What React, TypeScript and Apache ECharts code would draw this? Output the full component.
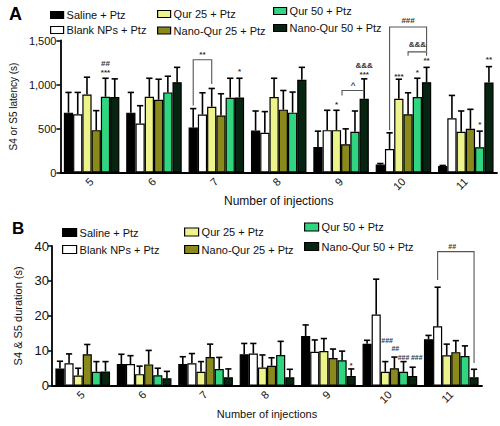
import { useEffect, useRef } from "react";
import * as echarts from "echarts";

const FONT = "Liberation Sans, Arial, sans-serif";

const CATEGORIES = ["5", "6", "7", "8", "9", "10", "11"];
const GROUPS = [
  "Saline + Ptz",
  "Blank NPs + Ptz",
  "Qur 25 + Ptz",
  "Nano-Qur 25 + Ptz",
  "Qur 50 + Ptz",
  "Nano-Qur 50 + Ptz",
];
const COLORS = ["#000000", "#ffffff", "#eef48c", "#8a891c", "#2fd67f", "#06240f"];

// Panel A: S4 or S5 latency (s), means
const A_SALINE = [680, 680, 511, 477, 290, 90, 75];
const A_BLANK = [662, 556, 658, 451, 481, 267, 617];
const A_QUR25 = [887, 861, 748, 857, 481, 838, 462];
const A_NANO25 = [481, 827, 647, 714, 320, 662, 496];
const A_QUR50 = [861, 910, 850, 680, 462, 857, 286];
const A_NANO50 = [857, 1026, 853, 1053, 838, 1026, 1023];
// Panel A: upper end of error bars
const A_SALINE_ERR = [910, 910, 726, 699, 470, 102, 80];
const A_BLANK_ERR = [910, 759, 906, 692, 707, 451, 876];
const A_QUR25_ERR = [1083, 1071, 955, 1071, 707, 1060, 699];
const A_NANO25_ERR = [703, 1060, 895, 932, 496, 906, 718];
const A_QUR50_ERR = [1071, 1094, 1071, 914, 699, 1071, 470];
const A_NANO50_ERR = [1064, 1195, 1071, 1195, 1064, 1195, 1203];

// Panel B: S4 & S5 duration (s), means
const B_SALINE = [4.95, 6.2, 6.2, 9.0, 14.2, 12.0, 13.3];
const B_BLANK = [6.4, 6.2, 6.4, 9.2, 9.7, 20.4, 17.0];
const B_QUR25 = [2.9, 3.3, 4.0, 5.2, 9.9, 4.0, 8.7];
const B_NANO25 = [9.0, 6.1, 8.2, 5.7, 7.9, 5.0, 9.6];
const B_QUR50 = [4.0, 3.0, 4.8, 8.8, 7.3, 4.0, 8.5];
const B_NANO50 = [4.1, 2.1, 2.4, 2.4, 2.8, 2.8, 2.4];
// Panel B: upper end of error bars
const B_SALINE_ERR = [7.0, 9.0, 8.3, 12.1, 17.4, 13.0, 14.4];
const B_BLANK_ERR = [9.1, 8.6, 9.2, 12.1, 13.1, 30.5, 28.2];
const B_QUR25_ERR = [5.0, 5.6, 6.9, 8.8, 13.5, 6.9, 11.9];
const B_NANO25_ERR = [11.8, 10.1, 11.9, 8.0, 10.5, 8.2, 12.9];
const B_QUR50_ERR = [6.9, 5.0, 8.1, 12.7, 9.9, 6.9, 11.4];
const B_NANO50_ERR = [6.9, 4.1, 4.8, 4.7, 4.8, 5.3, 4.7];

// significance marks: category index, bar position, value level, text
const A_MARKS = [
  { cat: 0, pos: 4, value: 1236, text: "##" },
  { cat: 0, pos: 4, value: 1138, text: "***" },
  { cat: 2, pos: 1, value: 1345, text: "**" },
  { cat: 2, pos: 5, value: 1149, text: "*" },
  { cat: 4, pos: 2, value: 773, text: "*" },
  { cat: 4, pos: 3.8, value: 988, text: "^" },
  { cat: 4, pos: 5, value: 1221, text: "&&&" },
  { cat: 4, pos: 5, value: 1118, text: "***" },
  { cat: 5, pos: 2, value: 1089, text: "***" },
  { cat: 5, pos: 4, value: 1131, text: "*" },
  { cat: 5, pos: 5, value: 1278, text: "**" },
  { cat: 5, pos: 4, value: 1458, text: "&&&" },
  { cat: 5, pos: 3, value: 1729, text: "###" },
  { cat: 6, pos: 4, value: 547, text: "*" },
  { cat: 6, pos: 5, value: 1289, text: "**" },
];
const B_MARKS = [
  { cat: 4, pos: 5, value: 5.8, text: "*" },
  { cat: 5, pos: 2.2, value: 12.9, text: "###" },
  { cat: 5, pos: 3.1, value: 10.6, text: "##" },
  { cat: 5, pos: 4.0, value: 8.2, text: "###" },
  { cat: 5, pos: 5.45, value: 8.2, text: "###" },
  { cat: 6, pos: 2.6, value: 39.8, text: "##" },
];
// comparison brackets: category, from/to bar position, top level, end levels
const A_BRACKETS = [
  { cat: 2, from: 0, to: 2, top: 1281, left: 762, right: 1007 },
  { cat: 4, from: 2.6, to: 5, top: 931, left: 875, right: 931 },
  { cat: 5, from: 3, to: 5, top: 1371, left: 1326, right: 1326 },
  { cat: 5, from: 1, to: 5, top: 1653, left: 480, right: 1382 },
];
const B_BRACKETS = [{ cat: 6, from: 1, to: 5, top: 38.4, left: 30.3, right: 6.5 }];

const A_MEANS = [A_SALINE, A_BLANK, A_QUR25, A_NANO25, A_QUR50, A_NANO50];
const A_ERRS = [A_SALINE_ERR, A_BLANK_ERR, A_QUR25_ERR, A_NANO25_ERR, A_QUR50_ERR, A_NANO50_ERR];
const B_MEANS = [B_SALINE, B_BLANK, B_QUR25, B_NANO25, B_QUR50, B_NANO50];
const B_ERRS = [B_SALINE_ERR, B_BLANK_ERR, B_QUR25_ERR, B_NANO25_ERR, B_QUR50_ERR, B_NANO50_ERR];

const GAP = 0.11;

function barWidth(api: any) {
  const band = api.size([1, 0])[0];
  return (band * (1 - GAP)) / GROUPS.length;
}

function barSeries(panel: number, i: number, data: number[]) {
  return {
    type: "bar",
    name: GROUPS[i],
    xAxisIndex: panel,
    yAxisIndex: panel,
    data,
    barGap: "0%",
    barCategoryGap: GAP * 100 + "%",
    itemStyle: { color: COLORS[i], borderColor: "#000", borderWidth: 1.2 },
    z: 2,
  };
}

function errSeries(panel: number, i: number, means: number[], errs: number[]) {
  return {
    type: "custom",
    xAxisIndex: panel,
    yAxisIndex: panel,
    z: 3,
    silent: true,
    data: means.map((m, k) => [k, m, errs[k]]),
    renderItem: (_p: any, api: any) => {
      const k = api.value(0);
      const base = api.coord([k, api.value(1)]);
      const top = api.coord([k, api.value(2)]);
      const bw = barWidth(api);
      const x = base[0] + (i - 2.5) * bw;
      const cap = bw * 0.34;
      const st = { stroke: "#000", lineWidth: 1.6 };
      return {
        type: "group",
        children: [
          { type: "line", shape: { x1: x, y1: base[1], x2: x, y2: top[1] }, style: st },
          { type: "line", shape: { x1: x - cap, y1: top[1], x2: x + cap, y2: top[1] }, style: st },
        ],
      };
    },
  };
}

function markSeries(panel: number, marks: any[], size: number) {
  return {
    type: "custom",
    xAxisIndex: panel,
    yAxisIndex: panel,
    z: 4,
    silent: true,
    clip: false,
    data: marks.map((m) => [m.cat, m.value]),
    renderItem: (p: any, api: any) => {
      const m = marks[p.dataIndex];
      const c = api.coord([m.cat, m.value]);
      const bw = barWidth(api);
      return {
        type: "text",
        x: c[0] + (m.pos - 2.5) * bw,
        y: c[1],
        style: {
          text: m.text,
          fill: "#333",
          fontFamily: FONT,
          fontSize: size,
          fontWeight: "bold",
          align: "center",
          verticalAlign: "middle",
        },
      };
    },
  };
}

function bracketSeries(panel: number, brackets: any[]) {
  return {
    type: "custom",
    xAxisIndex: panel,
    yAxisIndex: panel,
    z: 4,
    silent: true,
    clip: false,
    data: brackets.map((b) => [b.cat, b.top]),
    renderItem: (p: any, api: any) => {
      const b = brackets[p.dataIndex];
      const bw = barWidth(api);
      const c = api.coord([b.cat, b.top]);
      const x1 = c[0] + (b.from - 2.5) * bw;
      const x2 = c[0] + (b.to - 2.5) * bw;
      const yl = api.coord([b.cat, b.left])[1];
      const yr = api.coord([b.cat, b.right])[1];
      return {
        type: "polyline",
        shape: { points: [[x1, yl], [x1, c[1]], [x2, c[1]], [x2, yr]] },
        style: { stroke: "#555", lineWidth: 1.1, fill: "none" },
      };
    },
  };
}

const A_LEGEND_POS = [
  [50, 9], [50, 24], [157, 8], [157, 24.5], [273, 5], [273, 22],
];
const B_LEGEND_POS = [
  [62, 226.5], [62, 243.5], [184, 226], [184, 243.5], [304, 221], [304, 240.5],
];

function legends(pos: number[][], w: number, h: number) {
  return GROUPS.map((g, i) => ({
    data: [g],
    left: pos[i][0],
    top: pos[i][1],
    itemWidth: w,
    itemHeight: h,
    padding: 0,
    icon: "rect",
    selectedMode: false,
    itemStyle: { borderColor: "#000", borderWidth: 1.2 },
    textStyle: { fontFamily: FONT, fontSize: 11, color: "#111", lineHeight: 12, padding: [0, 0, 0, -2] },
  }));
}

function xAxis(grid: number, gap: number, nameSize: number) {
  return {
    type: "category",
    gridIndex: grid,
    data: CATEGORIES,
    name: "Number of injections",
    nameLocation: "middle",
    nameGap: gap,
    nameTextStyle: { fontFamily: FONT, fontSize: nameSize, color: "#111" },
    axisLine: { lineStyle: { color: "#000", width: 1.8 } },
    axisTick: { alignWithLabel: true, length: 4, lineStyle: { color: "#000", width: 1.5 } },
    axisLabel: { rotate: 45, fontFamily: FONT, fontSize: 11, color: "#111", margin: 7, interval: 0 },
  };
}

export default function App() {
  const ref = useRef<HTMLDivElement>(null);
  useEffect(() => {
    if (!ref.current) return;
    const chart = echarts.init(ref.current, null, { renderer: "svg" });
    const series: any[] = [];
    A_MEANS.forEach((d, i) => series.push(barSeries(0, i, d)));
    B_MEANS.forEach((d, i) => series.push(barSeries(1, i, d)));
    A_MEANS.forEach((d, i) => series.push(errSeries(0, i, d, A_ERRS[i])));
    B_MEANS.forEach((d, i) => series.push(errSeries(1, i, d, B_ERRS[i])));
    series.push(bracketSeries(0, A_BRACKETS));
    series.push(bracketSeries(1, B_BRACKETS));
    series.push(markSeries(0, A_MARKS, 8));
    series.push(markSeries(1, B_MARKS, 7));

    chart.setOption({
      animation: false,
      backgroundColor: "#ffffff",
      legend: [...legends(A_LEGEND_POS, 13, 7), ...legends(B_LEGEND_POS, 14, 8)],
      grid: [
        { left: 47, right: 3, top: 40.5, height: 132 },
        { left: 52, right: 18, top: 246, height: 139.7 },
      ],
      xAxis: [xAxis(0, 19, 12), xAxis(1, 22, 11)],
      yAxis: [
        {
          type: "value",
          gridIndex: 0,
          min: 0,
          max: 1500,
          interval: 500,
          name: "S4 or S5 latency (s)",
          nameLocation: "middle",
          nameGap: 35,
          nameTextStyle: { fontFamily: FONT, fontSize: 10, color: "#111" },
          splitLine: { show: false },
          axisLine: { show: true, lineStyle: { color: "#000", width: 1.8 } },
          axisTick: { show: true, length: 4, lineStyle: { color: "#000", width: 1.5 } },
          axisLabel: {
            fontFamily: FONT,
            fontSize: 11,
            color: "#111",
            margin: 4,
            formatter: (v: number) => v.toLocaleString("en-US"),
          },
        },
        {
          type: "value",
          gridIndex: 1,
          min: 0,
          max: 40,
          interval: 10,
          name: "S4 & S5 duration (s)",
          nameLocation: "middle",
          nameGap: 19,
          nameTextStyle: { fontFamily: FONT, fontSize: 11, color: "#111" },
          splitLine: { show: false },
          axisLine: { show: true, lineStyle: { color: "#000", width: 1.8 } },
          axisTick: { show: true, length: 4, lineStyle: { color: "#000", width: 1.5 } },
          axisLabel: { fontFamily: FONT, fontSize: 13, color: "#111", margin: 3 },
        },
      ],
      graphic: [
        { type: "text", left: 9, top: 5, style: { text: "A", fontFamily: FONT, fontSize: 18, fontWeight: "bold", fill: "#000" } },
        { type: "text", left: 12, top: 220, style: { text: "B", fontFamily: FONT, fontSize: 17, fontWeight: "bold", fill: "#000" } },
      ],
      series,
    });
    return () => chart.dispose();
  }, []);
  return (
    <div
      ref={ref}
      style={{ position: "fixed", left: 0, top: 0, width: 500, height: 426, background: "#fff" }}
    />
  );
}
